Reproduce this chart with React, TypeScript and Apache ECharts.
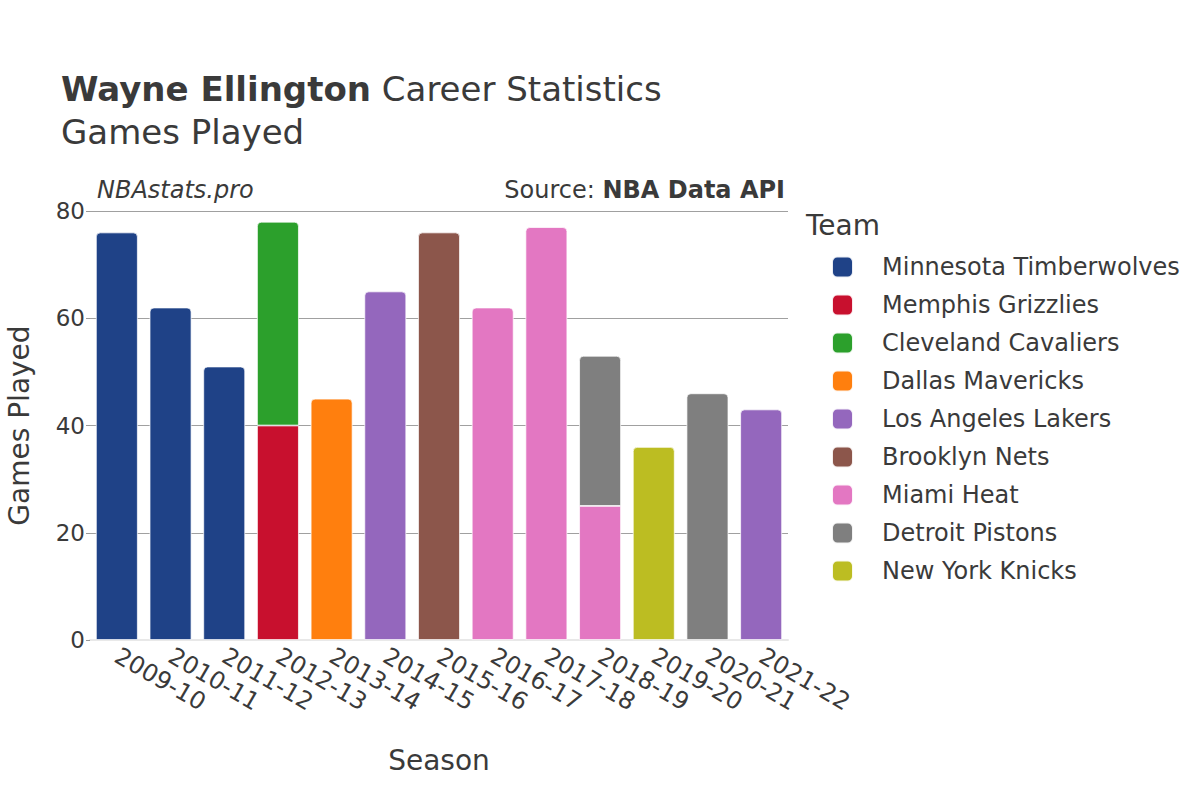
import React, { useEffect, useRef } from "react";
import * as echarts from "echarts";

const seasons = ["2009-10","2010-11","2011-12","2012-13","2013-14","2014-15","2015-16","2016-17","2017-18","2018-19","2019-20","2020-21","2021-22"];
const teams = ["Minnesota Timberwolves","Memphis Grizzlies","Cleveland Cavaliers","Dallas Mavericks","Los Angeles Lakers","Brooklyn Nets","Miami Heat","Detroit Pistons","New York Knicks"];
const teamColors = ["#1f4287","#c8102e","#2ca02c","#ff7f0e","#9467bd","#8c564b","#e377c2","#7f7f7f","#bcbd22"];
const minValues = [76,62,51,null,null,null,null,null,null,null,null,null,null];
const memValues = [null,null,null,40,null,null,null,null,null,null,null,null,null];
const cleValues = [null,null,null,38,null,null,null,null,null,null,null,null,null];
const dalValues = [null,null,null,null,45,null,null,null,null,null,null,null,null];
const lalValues = [null,null,null,null,null,65,null,null,null,null,null,null,43];
const bknValues = [null,null,null,null,null,null,76,null,null,null,null,null,null];
const miaValues = [null,null,null,null,null,null,null,62,77,25,null,null,null];
const detValues = [null,null,null,null,null,null,null,null,null,28,null,46,null];
const nykValues = [null,null,null,null,null,null,null,null,null,null,36,null,null];
const allValues = [minValues,memValues,cleValues,dalValues,lalValues,bknValues,miaValues,detValues,nykValues];
const yTicks = [0,20,40,60,80];

const FONT = "DejaVu Sans";
const INK = "#3a3a3a";

export default function App() {
  const ref = useRef<HTMLDivElement>(null);
  useEffect(() => {
    if (!ref.current) return;
    const chart = echarts.init(ref.current, null, { renderer: "svg" });
    const topIndex = seasons.map((_, i) => {
      let t = -1;
      allValues.forEach((vals, s) => { if (vals[i] != null) t = s; });
      return t;
    });
    const series = teams.map((name, s) => ({
      name,
      type: "bar",
      stack: "total",
      barWidth: "78%",
      itemStyle: { color: teamColors[s], borderColor: "rgba(255,255,255,0.9)", borderWidth: 0.8 },
      data: allValues[s].map((v, i) =>
        v == null ? null : { value: v, itemStyle: { borderRadius: topIndex[i] === s ? [4, 4, 0, 0] : 0 } }
      ),
    }));
    chart.setOption({
      animation: false,
      textStyle: { fontFamily: FONT },
      title: {
        left: 61,
        top: 67,
        padding: 0,
        text: "{b|Wayne Ellington} Career Statistics\nGames Played",
        textStyle: {
          fontFamily: FONT,
          fontSize: 34,
          color: INK,
          fontWeight: "normal",
          lineHeight: 43,
          rich: { b: { fontFamily: FONT, fontSize: 34, fontWeight: "bold", color: INK, lineHeight: 43 } },
        },
      },
      graphic: [
        { type: "text", left: 97, top: 178, style: { text: "NBAstats.pro", font: `italic 24px '${FONT}'`, fill: INK } },
        { type: "text", right: 1200 - 785, top: 178, style: { text: "{n|Source: }{b|NBA Data API}", rich: { n: { fontFamily: FONT, fontSize: 24, fill: INK }, b: { fontFamily: FONT, fontSize: 24, fontWeight: "bold", fill: INK } } } },
        { type: "text", left: 806, top: 211, style: { text: "Team", font: `28px '${FONT}'`, fill: INK } },
      ],
      legend: {
        orient: "vertical",
        left: 826,
        top: 250,
        itemWidth: 21,
        itemHeight: 21,
        itemGap: 14,
        icon: "roundRect",
        textStyle: { fontFamily: FONT, fontSize: 24, color: INK, padding: [0, 0, 0, 24] },
        data: teams,
      },
      grid: { left: 90, right: 412, top: 211, bottom: 160, containLabel: false, outerBoundsMode: "none" },
      xAxis: {
        type: "category",
        data: seasons,
        name: "Season",
        nameLocation: "middle",
        nameGap: 106,
        nameTextStyle: { fontFamily: FONT, fontSize: 28, color: INK },
        axisLine: { lineStyle: { color: "#e8e8e8", width: 2 } },
        axisTick: { show: false },
        axisLabel: { rotate: -30, fontFamily: FONT, fontSize: 24, color: INK, margin: 14, interval: 0 },
      },
      yAxis: {
        type: "value",
        min: 0,
        max: 80,
        interval: 20,
        name: "Games Played",
        nameLocation: "middle",
        nameGap: 57,
        nameTextStyle: { fontFamily: FONT, fontSize: 28, color: INK },
        axisLine: { show: false },
        axisTick: { show: true, length: 4, lineStyle: { color: "#999" } },
        axisLabel: { fontFamily: FONT, fontSize: 23, color: INK, margin: 5, formatter: (v: number) => (yTicks.includes(v) ? String(v) : "") },
        splitLine: { lineStyle: { color: "#a0a0a0", width: 1 } },
      },
      series,
    });
    return () => chart.dispose();
  }, []);
  return <div ref={ref} style={{ width: 1200, height: 800, position: "absolute", left: 0, top: 0 }} />;
}
